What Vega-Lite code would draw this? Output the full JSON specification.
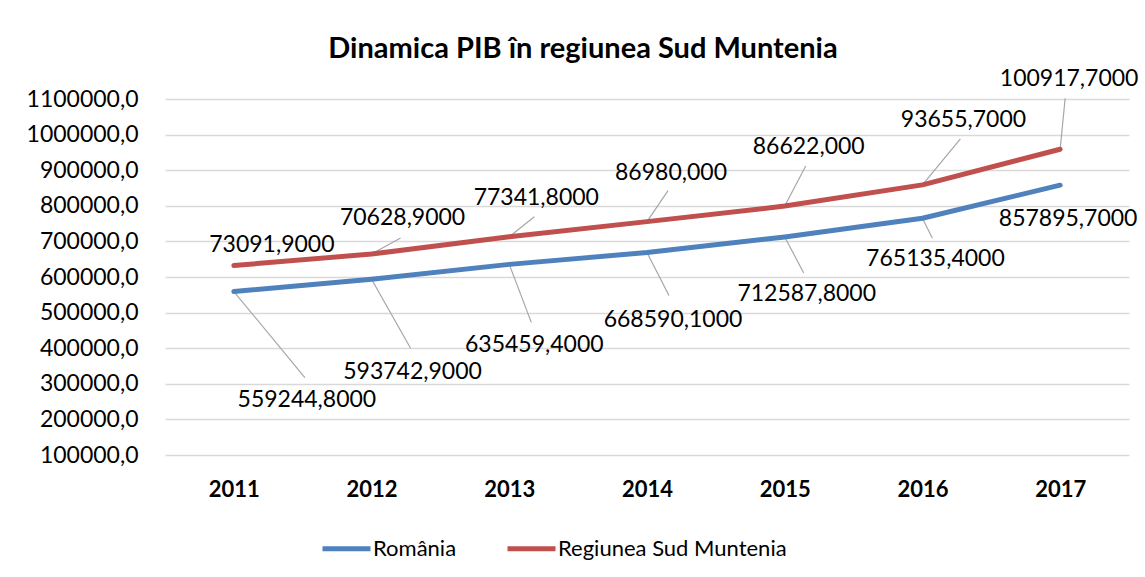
{
  "$schema": "https://vega.github.io/schema/vega-lite/v6.json",
  "width": 964,
  "height": 356,
  "autosize": "none",
  "padding": {"left": 165, "top": 99, "right": 16, "bottom": 122},
  "background": "white",
  "title": {
    "text": "Dinamica PIB în regiunea Sud Muntenia",
    "font": "Lato",
    "fontSize": 29,
    "fontWeight": "bold",
    "color": "#000000",
    "anchor": "middle",
    "frame": "group",
    "dx": -64,
    "dy": 32,
    "offset": 36
  },
  "data": {
    "values": [
      {"year": "2011", "series": "România", "value": 559244.8, "label": "559244,8000"},
      {"year": "2012", "series": "România", "value": 593742.9, "label": "593742,9000"},
      {"year": "2013", "series": "România", "value": 635459.4, "label": "635459,4000"},
      {"year": "2014", "series": "România", "value": 668590.1, "label": "668590,1000"},
      {"year": "2015", "series": "România", "value": 712587.8, "label": "712587,8000"},
      {"year": "2016", "series": "România", "value": 765135.4, "label": "765135,4000"},
      {"year": "2017", "series": "România", "value": 857895.7, "label": "857895,7000"},
      {"year": "2011", "series": "Regiunea Sud Muntenia", "value": 73091.9, "label": "73091,9000"},
      {"year": "2012", "series": "Regiunea Sud Muntenia", "value": 70628.9, "label": "70628,9000"},
      {"year": "2013", "series": "Regiunea Sud Muntenia", "value": 77341.8, "label": "77341,8000"},
      {"year": "2014", "series": "Regiunea Sud Muntenia", "value": 86980.0, "label": "86980,000"},
      {"year": "2015", "series": "Regiunea Sud Muntenia", "value": 86622.0, "label": "86622,000"},
      {"year": "2016", "series": "Regiunea Sud Muntenia", "value": 93655.7, "label": "93655,7000"},
      {"year": "2017", "series": "Regiunea Sud Muntenia", "value": 100917.7, "label": "100917,7000"}
    ]
  },
  "transform": [
    {"stack": "value", "groupby": ["year"], "sort": [{"field": "series", "order": "descending"}], "as": ["v0", "v1"]}
  ],
  "encoding": {
    "x": {
      "field": "year",
      "type": "ordinal",
      "scale": {"type": "point", "padding": 0.5},
      "axis": {
        "title": null,
        "labelAngle": 0,
        "labelFont": "Lato",
        "labelFontSize": 22,
        "labelFontWeight": "bold",
        "labelColor": "#000000",
        "labelPadding": 24,
        "domain": false,
        "ticks": false,
        "grid": false
      }
    },
    "y": {
      "field": "v1",
      "type": "quantitative",
      "scale": {"domain": [100000, 1100000], "nice": false, "zero": false},
      "axis": {
        "title": null,
        "values": [100000, 200000, 300000, 400000, 500000, 600000, 700000, 800000, 900000, 1000000, 1100000],
        "labelExpr": "replace(format(datum.value, '.1f'), '.', ',')",
        "labelFont": "Lato",
        "labelFontSize": 23,
        "labelColor": "#000000",
        "labelPadding": 27,
        "domain": false,
        "ticks": false,
        "grid": true,
        "gridColor": "#d9d9d9",
        "gridWidth": 1.3
      }
    }
  },
  "layer": [
    {"transform": [{"filter": "datum.series == 'România' && datum.year == '2011'"}], "mark": {"type": "rule", "color": "#a6a6a6", "strokeWidth": 1.2, "x2Offset": 71, "y2Offset": 86}, "encoding": {"x2": {"field": "year"}, "y2": {"field": "v1"}}},
    {"transform": [{"filter": "datum.series == 'România' && datum.year == '2012'"}], "mark": {"type": "rule", "color": "#a6a6a6", "strokeWidth": 1.2, "x2Offset": 39, "y2Offset": 69}, "encoding": {"x2": {"field": "year"}, "y2": {"field": "v1"}}},
    {"transform": [{"filter": "datum.series == 'România' && datum.year == '2013'"}], "mark": {"type": "rule", "color": "#a6a6a6", "strokeWidth": 1.2, "x2Offset": 22, "y2Offset": 58}, "encoding": {"x2": {"field": "year"}, "y2": {"field": "v1"}}},
    {"transform": [{"filter": "datum.series == 'România' && datum.year == '2014'"}], "mark": {"type": "rule", "color": "#a6a6a6", "strokeWidth": 1.2, "x2Offset": 22, "y2Offset": 43}, "encoding": {"x2": {"field": "year"}, "y2": {"field": "v1"}}},
    {"transform": [{"filter": "datum.series == 'România' && datum.year == '2015'"}], "mark": {"type": "rule", "color": "#a6a6a6", "strokeWidth": 1.2, "x2Offset": 19, "y2Offset": 36}, "encoding": {"x2": {"field": "year"}, "y2": {"field": "v1"}}},
    {"transform": [{"filter": "datum.series == 'România' && datum.year == '2016'"}], "mark": {"type": "rule", "color": "#a6a6a6", "strokeWidth": 1.2, "x2Offset": 10, "y2Offset": 20}, "encoding": {"x2": {"field": "year"}, "y2": {"field": "v1"}}},
    {"transform": [{"filter": "datum.series == 'Regiunea Sud Muntenia' && datum.year == '2012'"}], "mark": {"type": "rule", "color": "#a6a6a6", "strokeWidth": 1.2, "x2Offset": 29, "y2Offset": -16}, "encoding": {"x2": {"field": "year"}, "y2": {"field": "v1"}}},
    {"transform": [{"filter": "datum.series == 'Regiunea Sud Muntenia' && datum.year == '2013'"}], "mark": {"type": "rule", "color": "#a6a6a6", "strokeWidth": 1.2, "x2Offset": 25, "y2Offset": -20}, "encoding": {"x2": {"field": "year"}, "y2": {"field": "v1"}}},
    {"transform": [{"filter": "datum.series == 'Regiunea Sud Muntenia' && datum.year == '2014'"}], "mark": {"type": "rule", "color": "#a6a6a6", "strokeWidth": 1.2, "x2Offset": 21, "y2Offset": -31}, "encoding": {"x2": {"field": "year"}, "y2": {"field": "v1"}}},
    {"transform": [{"filter": "datum.series == 'Regiunea Sud Muntenia' && datum.year == '2015'"}], "mark": {"type": "rule", "color": "#a6a6a6", "strokeWidth": 1.2, "x2Offset": 21, "y2Offset": -40}, "encoding": {"x2": {"field": "year"}, "y2": {"field": "v1"}}},
    {"transform": [{"filter": "datum.series == 'Regiunea Sud Muntenia' && datum.year == '2016'"}], "mark": {"type": "rule", "color": "#a6a6a6", "strokeWidth": 1.2, "x2Offset": 38, "y2Offset": -46}, "encoding": {"x2": {"field": "year"}, "y2": {"field": "v1"}}},
    {"transform": [{"filter": "datum.series == 'Regiunea Sud Muntenia' && datum.year == '2017'"}], "mark": {"type": "rule", "color": "#a6a6a6", "strokeWidth": 1.2, "x2Offset": 5, "y2Offset": -51}, "encoding": {"x2": {"field": "year"}, "y2": {"field": "v1"}}},
    {
      "mark": {"type": "line", "strokeWidth": 5, "strokeCap": "round", "strokeJoin": "round"},
      "encoding": {
        "color": {
          "field": "series",
          "type": "nominal",
          "scale": {"domain": ["România", "Regiunea Sud Muntenia"], "range": ["#4F81BD", "#C0504D"]},
          "legend": {
            "title": null,
            "orient": "none",
            "direction": "horizontal",
            "legendX": 155,
            "legendY": 423,
            "symbolType": "stroke",
            "symbolSize": 2304,
            "symbolStrokeWidth": 5,
            "labelFont": "Lato",
            "labelFontSize": 22,
            "labelColor": "#000000",
            "labelOffset": 0,
            "labelLimit": 0,
            "columnPadding": 40
          }
        }
      }
    },
    {"transform": [{"filter": "datum.series == 'România' && datum.year == '2011'"}], "mark": {"type": "text", "font": "Lato", "fontSize": 23, "color": "#000000", "align": "center", "baseline": "middle", "dx": 73, "dy": 108}, "encoding": {"text": {"field": "label"}}},
    {"transform": [{"filter": "datum.series == 'România' && datum.year == '2012'"}], "mark": {"type": "text", "font": "Lato", "fontSize": 23, "color": "#000000", "align": "center", "baseline": "middle", "dx": 41, "dy": 93}, "encoding": {"text": {"field": "label"}}},
    {"transform": [{"filter": "datum.series == 'România' && datum.year == '2013'"}], "mark": {"type": "text", "font": "Lato", "fontSize": 23, "color": "#000000", "align": "center", "baseline": "middle", "dx": 25, "dy": 81}, "encoding": {"text": {"field": "label"}}},
    {"transform": [{"filter": "datum.series == 'România' && datum.year == '2014'"}], "mark": {"type": "text", "font": "Lato", "fontSize": 23, "color": "#000000", "align": "center", "baseline": "middle", "dx": 26, "dy": 67}, "encoding": {"text": {"field": "label"}}},
    {"transform": [{"filter": "datum.series == 'România' && datum.year == '2015'"}], "mark": {"type": "text", "font": "Lato", "fontSize": 23, "color": "#000000", "align": "center", "baseline": "middle", "dx": 22, "dy": 57}, "encoding": {"text": {"field": "label"}}},
    {"transform": [{"filter": "datum.series == 'România' && datum.year == '2016'"}], "mark": {"type": "text", "font": "Lato", "fontSize": 23, "color": "#000000", "align": "center", "baseline": "middle", "dx": 13, "dy": 41}, "encoding": {"text": {"field": "label"}}},
    {"transform": [{"filter": "datum.series == 'România' && datum.year == '2017'"}], "mark": {"type": "text", "font": "Lato", "fontSize": 23, "color": "#000000", "align": "center", "baseline": "middle", "dx": 8, "dy": 34}, "encoding": {"text": {"field": "label"}}},
    {"transform": [{"filter": "datum.series == 'Regiunea Sud Muntenia' && datum.year == '2011'"}], "mark": {"type": "text", "font": "Lato", "fontSize": 23, "color": "#000000", "align": "center", "baseline": "middle", "dx": 38, "dy": -20}, "encoding": {"text": {"field": "label"}}},
    {"transform": [{"filter": "datum.series == 'Regiunea Sud Muntenia' && datum.year == '2012'"}], "mark": {"type": "text", "font": "Lato", "fontSize": 23, "color": "#000000", "align": "center", "baseline": "middle", "dx": 31, "dy": -36}, "encoding": {"text": {"field": "label"}}},
    {"transform": [{"filter": "datum.series == 'Regiunea Sud Muntenia' && datum.year == '2013'"}], "mark": {"type": "text", "font": "Lato", "fontSize": 23, "color": "#000000", "align": "center", "baseline": "middle", "dx": 27, "dy": -39}, "encoding": {"text": {"field": "label"}}},
    {"transform": [{"filter": "datum.series == 'Regiunea Sud Muntenia' && datum.year == '2014'"}], "mark": {"type": "text", "font": "Lato", "fontSize": 23, "color": "#000000", "align": "center", "baseline": "middle", "dx": 24, "dy": -49}, "encoding": {"text": {"field": "label"}}},
    {"transform": [{"filter": "datum.series == 'Regiunea Sud Muntenia' && datum.year == '2015'"}], "mark": {"type": "text", "font": "Lato", "fontSize": 23, "color": "#000000", "align": "center", "baseline": "middle", "dx": 24, "dy": -59}, "encoding": {"text": {"field": "label"}}},
    {"transform": [{"filter": "datum.series == 'Regiunea Sud Muntenia' && datum.year == '2016'"}], "mark": {"type": "text", "font": "Lato", "fontSize": 23, "color": "#000000", "align": "center", "baseline": "middle", "dx": 41, "dy": -65}, "encoding": {"text": {"field": "label"}}},
    {"transform": [{"filter": "datum.series == 'Regiunea Sud Muntenia' && datum.year == '2017'"}], "mark": {"type": "text", "font": "Lato", "fontSize": 23, "color": "#000000", "align": "center", "baseline": "middle", "dx": 9, "dy": -70}, "encoding": {"text": {"field": "label"}}}
  ],
  "config": {
    "view": {"stroke": null},
    "font": "Lato"
  }
}
